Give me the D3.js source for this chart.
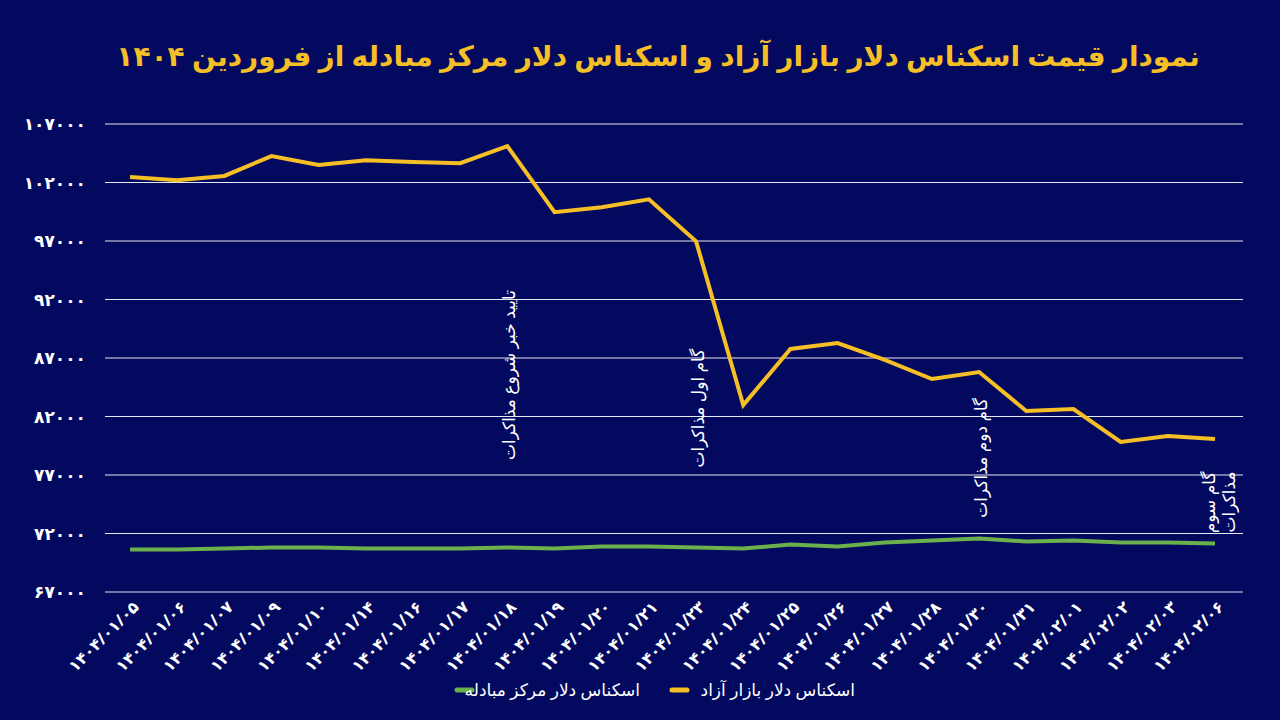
<!DOCTYPE html><html><head><meta charset="utf-8"><script src="https://cdn.jsdelivr.net/npm/d3@7"></script>
<style>body{margin:0;background:#03095e}text{font-family:"Noto Sans","DejaVu Sans",sans-serif}</style></head><body><svg width="1280" height="720"></svg><script>
const dates=["1404/01/05","1404/01/06","1404/01/07","1404/01/09","1404/01/10","1404/01/14","1404/01/16","1404/01/17","1404/01/18","1404/01/19","1404/01/20","1404/01/21","1404/01/23","1404/01/24","1404/01/25","1404/01/26","1404/01/27","1404/01/28","1404/01/30","1404/01/31","1404/02/01","1404/02/02","1404/02/03","1404/02/06"];
const freeMarket=[102470,102200,102560,104260,103500,103900,103750,103650,105100,99460,99880,100560,96970,82980,87770,88280,86830,85200,85800,82470,82640,79820,80330,80080];
const exchangeCenter=[70630,70630,70720,70800,70800,70720,70720,70720,70800,70720,70890,70890,70800,70720,71060,70890,71230,71400,71570,71320,71400,71230,71230,71150];
const yTicks=[67000,72000,77000,82000,87000,92000,97000,102000,107000];
const notes=[{i:8,lines:["تایید خبر شروع مذاکرات"],v:92800},{i:12,lines:["گام اول مذاکرات"],v:87800},{i:18,lines:["گام دوم مذاکرات"],v:83600},{i:23,lines:["گام سوم","مذاکرات"],v:77300}];
const fa=s=>String(s).replace(/\d/g,d=>"۰۱۲۳۴۵۶۷۸۹"[d]);
const svg=d3.select("svg");
const x=d3.scalePoint().domain(dates).range([130,1215]);
const y=d3.scaleLinear().domain([67000,107000]).range([592,124]);
svg.append("text").attr("x",658).attr("y",66).attr("text-anchor","middle").attr("fill","#f6bf26").attr("font-size",28).attr("font-weight","bold").attr("direction","rtl").text("نمودار قیمت اسکناس دلار بازار آزاد و اسکناس دلار مرکز مبادله از فروردین "+fa(1404));
svg.selectAll(".g").data(yTicks).join("line").attr("x1",105).attr("x2",1243).attr("y1",d=>y(d)).attr("y2",d=>y(d)).attr("stroke","#e8e8f0").attr("stroke-width",1);
svg.selectAll(".yl").data(yTicks).join("text").attr("x",86).attr("y",d=>y(d)+6).attr("text-anchor","end").attr("fill","#fff").attr("font-size",17).attr("font-weight","bold").text(d=>fa(d));
svg.selectAll(".xl").data(dates).join("text").attr("transform",d=>`translate(${x(d)+10},${608}) rotate(-45)`).attr("text-anchor","end").attr("fill","#fff").attr("font-size",16).attr("font-weight","bold").text(d=>fa(d));
const line=d3.line().x((d,i)=>x(dates[i])).y(d=>y(d));
svg.append("path").attr("d",line(freeMarket)).attr("fill","none").attr("stroke","#f6bf26").attr("stroke-width",4);
svg.append("path").attr("d",line(exchangeCenter)).attr("fill","none").attr("stroke","#6ab04c").attr("stroke-width",4);
notes.forEach(n=>{const k0=n.lines.length>1?-8:0;const g=svg.append("g").attr("transform",`translate(${x(dates[n.i])+k0+8},${y(n.v)}) rotate(-90)`);
n.lines.forEach((l,k)=>g.append("text").attr("x",0).attr("y",k*20).attr("fill","#fff").attr("font-size",17).attr("direction","rtl").attr("text-anchor","start").text(l));});
const leg=[["اسکناس دلار بازار آزاد","#f6bf26",855],["اسکناس دلار مرکز مبادله","#6ab04c",640]];
leg.forEach(([t,c,xx])=>{svg.append("line").attr("x1",xx-183).attr("x2",xx-168).attr("y1",690).attr("y2",690).attr("stroke",c).attr("stroke-width",5).attr("stroke-linecap","round");
svg.append("text").attr("x",xx).attr("y",696).attr("text-anchor","start").attr("direction","rtl").attr("fill","#fff").attr("font-size",17).text(t);});
</script></body></html>
